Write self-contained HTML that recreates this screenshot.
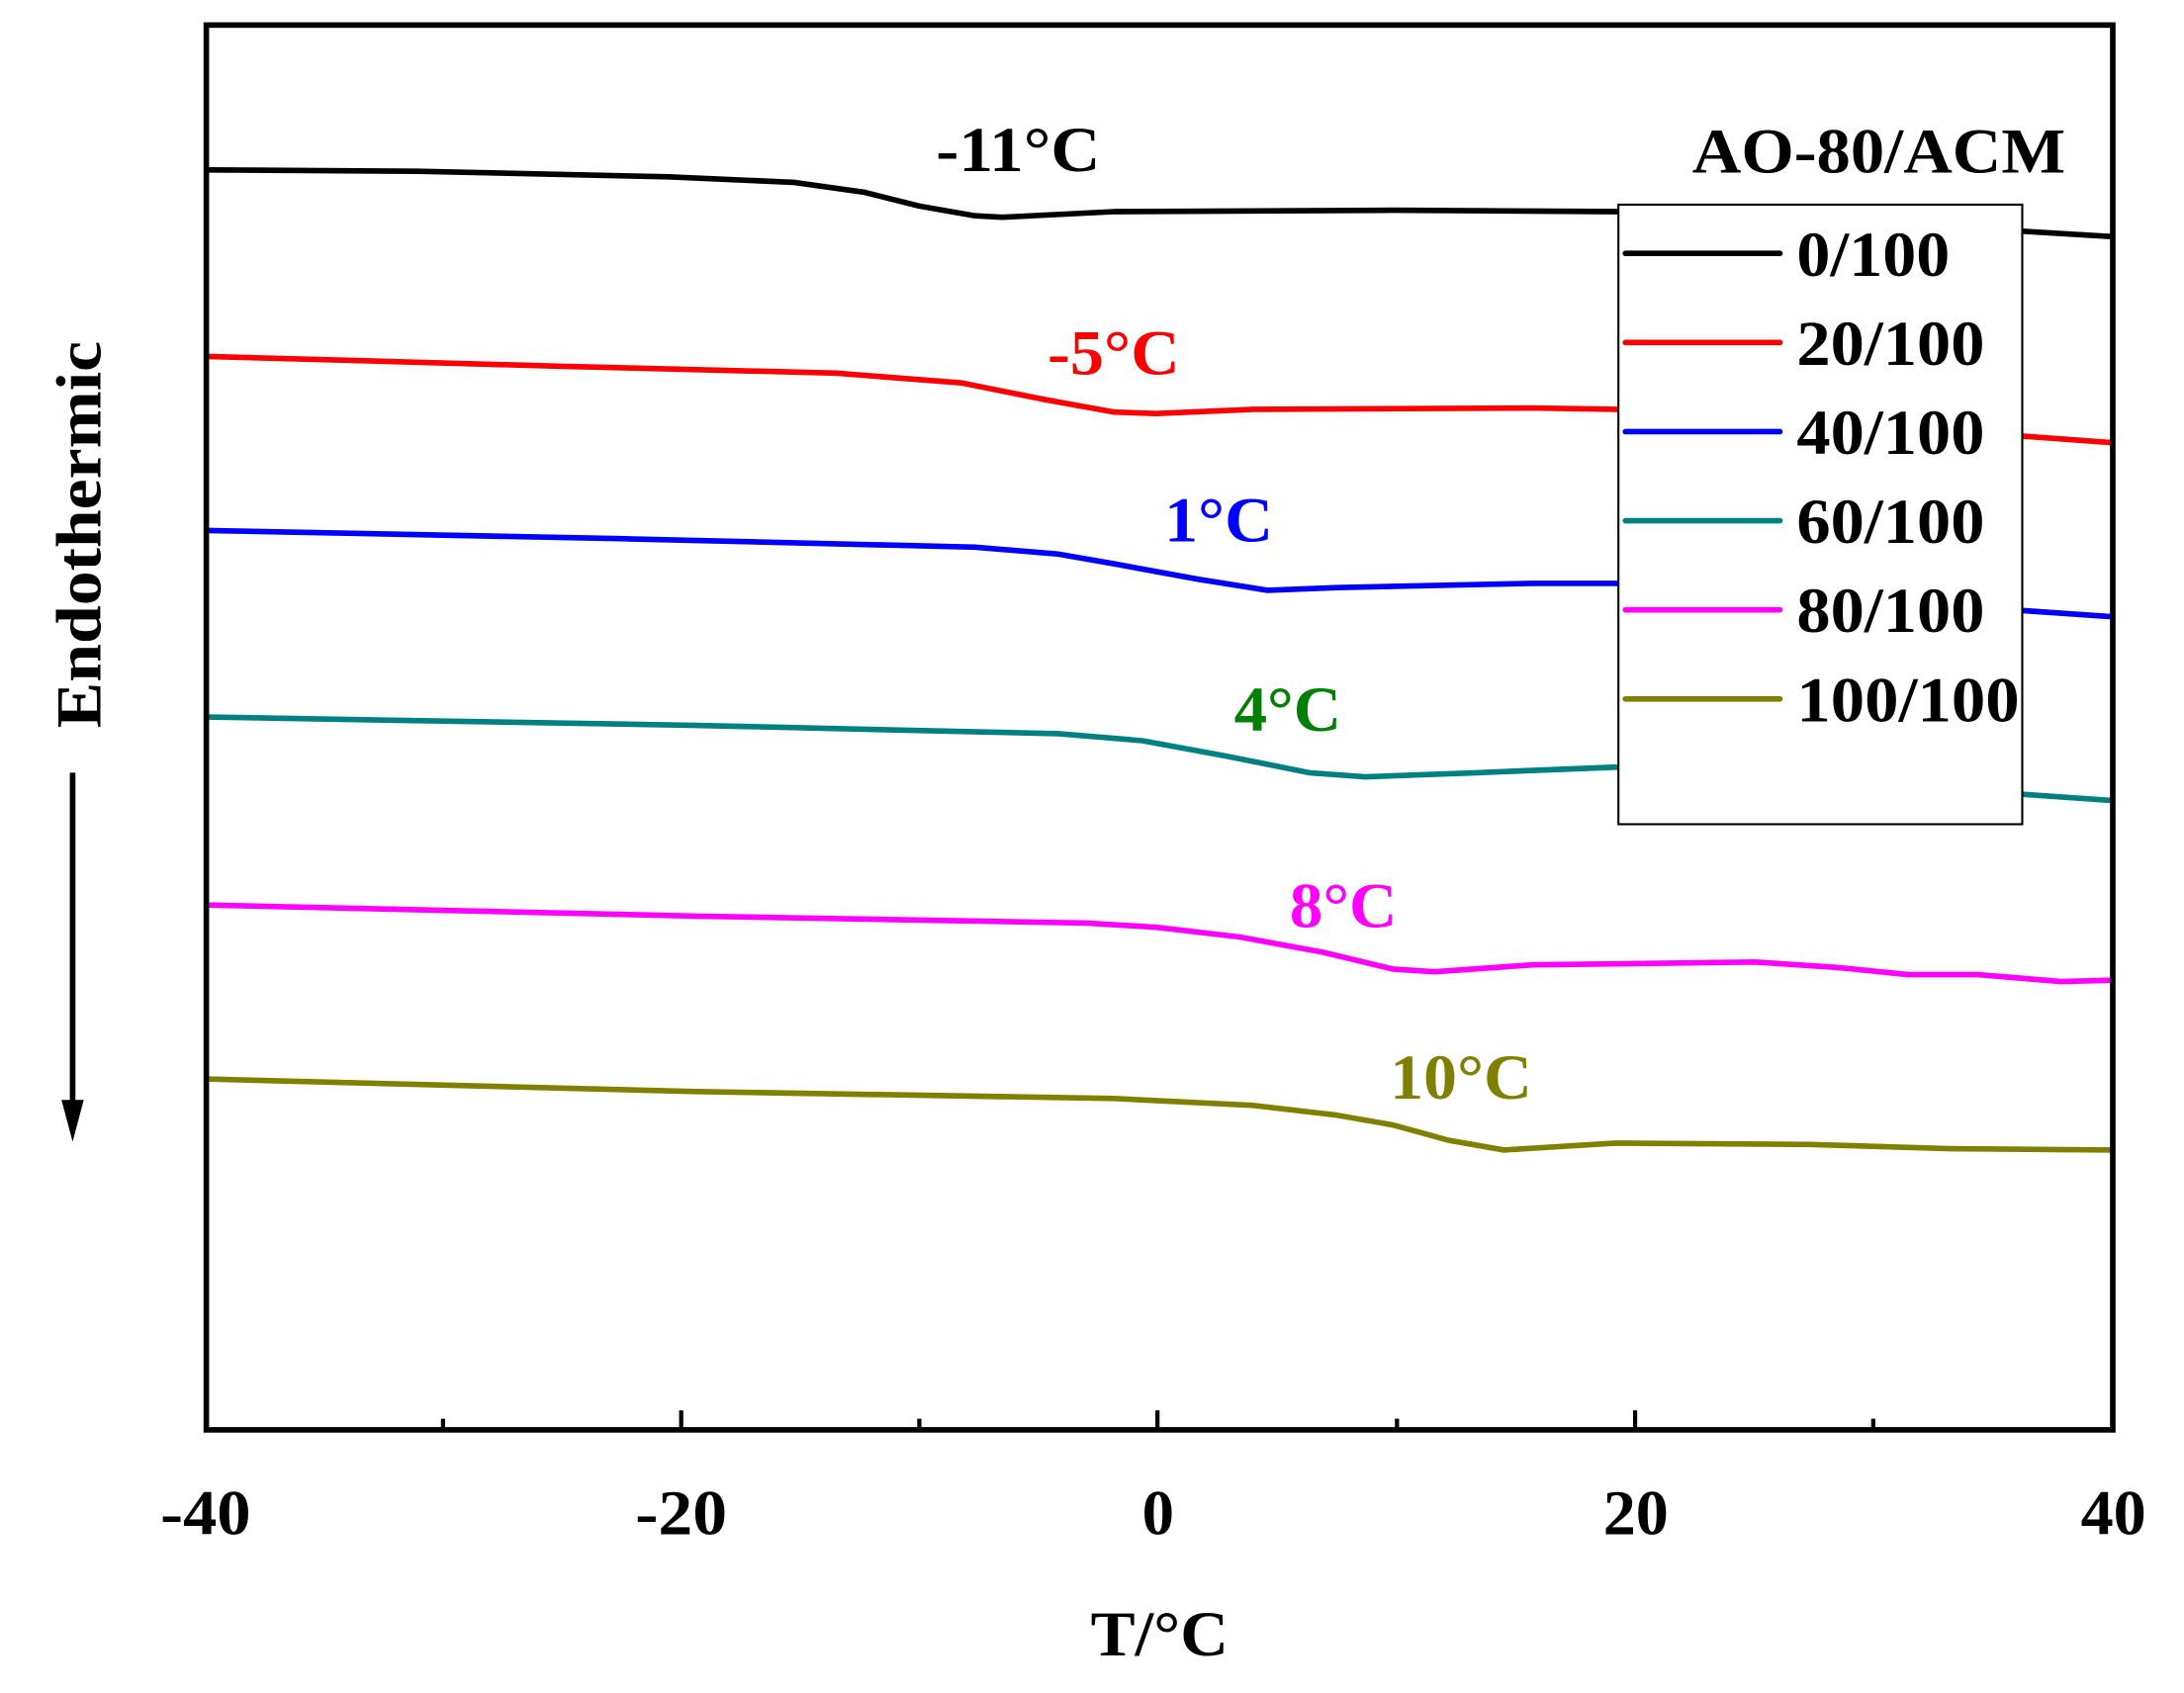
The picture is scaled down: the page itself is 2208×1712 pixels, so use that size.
<!DOCTYPE html>
<html><head><meta charset="utf-8"><style>html,body{margin:0;padding:0;background:#fff}svg{display:block}</style></head>
<body>
<svg width="2208" height="1712" viewBox="0 0 1568 1216" xmlns="http://www.w3.org/2000/svg" font-family="Liberation Serif, serif" font-weight="bold">
<rect width="1568" height="1216" fill="#fff"/>
<g fill="none" stroke-width="4" stroke-linejoin="round">
<path stroke="#000" d="M148,122 L300,123 L480,127 L570,131 L620,138 L660,148 L700,155 L720,156 L800,152 L1000,151 L1160,152 L1300,157 L1517,170"/>
<path stroke="#f00" d="M148,256 L400,263 L600,268 L690,275 L750,287 L800,296 L830,297 L900,294 L1100,293 L1160,294 L1300,302 L1517,318"/>
<path stroke="#00f" d="M148,381 L450,387 L700,393 L760,398 L800,405 L860,416 L910,424 L960,422 L1100,419 L1160,419 L1300,428 L1517,443"/>
<path stroke="#008080" d="M148,515 L500,521 L760,527 L820,532 L880,543 L940,555 L980,558 L1060,555 L1160,551 L1300,560 L1517,575"/>
<path stroke="#f0f" d="M148,650 L500,658 L780,663 L830,666 L890,673 L950,684 L1000,696 L1030,698 L1100,693 L1260,691 L1320,695 L1370,700 L1420,700 L1480,705 L1517,704"/>
<path stroke="#808000" d="M148,775 L500,784 L800,789 L900,794 L960,801 L1000,808 L1040,819 L1080,826 L1160,821 L1300,822 L1400,825 L1517,826"/>
</g>
<rect x="1162" y="147" width="290" height="445" fill="#fff" stroke="#000" stroke-width="1.5"/>
<g stroke-width="4" stroke-linecap="round">
<line x1="1167" y1="182" x2="1278" y2="182" stroke="#000"/>
<line x1="1167" y1="246" x2="1278" y2="246" stroke="#f00"/>
<line x1="1167" y1="310" x2="1278" y2="310" stroke="#00f"/>
<line x1="1167" y1="374" x2="1278" y2="374" stroke="#008080"/>
<line x1="1167" y1="438" x2="1278" y2="438" stroke="#f0f"/>
<line x1="1167" y1="502" x2="1278" y2="502" stroke="#808000"/>
</g>
<g font-size="46" fill="#000" lengthAdjust="spacingAndGlyphs">
<text x="1290" y="198" textLength="110" lengthAdjust="spacingAndGlyphs">0/100</text>
<text x="1290" y="262" textLength="135" lengthAdjust="spacingAndGlyphs">20/100</text>
<text x="1290" y="326" textLength="135" lengthAdjust="spacingAndGlyphs">40/100</text>
<text x="1290" y="390" textLength="135" lengthAdjust="spacingAndGlyphs">60/100</text>
<text x="1290" y="454" textLength="135" lengthAdjust="spacingAndGlyphs">80/100</text>
<text x="1290" y="518" textLength="160" lengthAdjust="spacingAndGlyphs">100/100</text>
<text x="1215" y="124" textLength="268" lengthAdjust="spacingAndGlyphs">AO-80/ACM</text>
</g>
<g font-size="46">
<text x="672" y="123" fill="#000" textLength="118" lengthAdjust="spacingAndGlyphs">-11°C</text>
<text x="752" y="269" fill="#f00" textLength="95" lengthAdjust="spacingAndGlyphs">-5°C</text>
<text x="836" y="389" fill="#00f" textLength="78" lengthAdjust="spacingAndGlyphs">1°C</text>
<text x="886" y="525" fill="#008000" textLength="77" lengthAdjust="spacingAndGlyphs">4°C</text>
<text x="926" y="666" fill="#f0f" textLength="77" lengthAdjust="spacingAndGlyphs">8°C</text>
<text x="998" y="789" fill="#808000" textLength="102" lengthAdjust="spacingAndGlyphs">10°C</text>
</g>
<rect x="148" y="18" width="1369" height="1009" fill="none" stroke="#000" stroke-width="4"/>
<g stroke="#000" stroke-width="3">
<line x1="148" y1="1027" x2="148" y2="1013"/><line x1="489" y1="1027" x2="489" y2="1013"/><line x1="831" y1="1027" x2="831" y2="1013"/><line x1="1174" y1="1027" x2="1174" y2="1013"/><line x1="1517" y1="1027" x2="1517" y2="1013"/>
<line x1="318" y1="1027" x2="318" y2="1019"/><line x1="660" y1="1027" x2="660" y2="1019"/><line x1="1003" y1="1027" x2="1003" y2="1019"/><line x1="1345" y1="1027" x2="1345" y2="1019"/>
</g>
<g font-size="46" fill="#000">
<text x="115" y="1102" textLength="65" lengthAdjust="spacingAndGlyphs">-40</text>
<text x="456" y="1102" textLength="66" lengthAdjust="spacingAndGlyphs">-20</text>
<text x="820" y="1102" textLength="23" lengthAdjust="spacingAndGlyphs">0</text>
<text x="1151" y="1102" textLength="47" lengthAdjust="spacingAndGlyphs">20</text>
<text x="1494" y="1102" textLength="47" lengthAdjust="spacingAndGlyphs">40</text>
<text x="783" y="1189" textLength="99" lengthAdjust="spacingAndGlyphs">T/°C</text>
<text transform="translate(72,523) rotate(-90)" textLength="278" lengthAdjust="spacingAndGlyphs">Endothermic</text>
</g>
<line x1="52" y1="555" x2="52" y2="795" stroke="#000" stroke-width="4"/>
<polygon points="44,790 60,790 52,820" fill="#000"/>
</svg>
</body></html>
